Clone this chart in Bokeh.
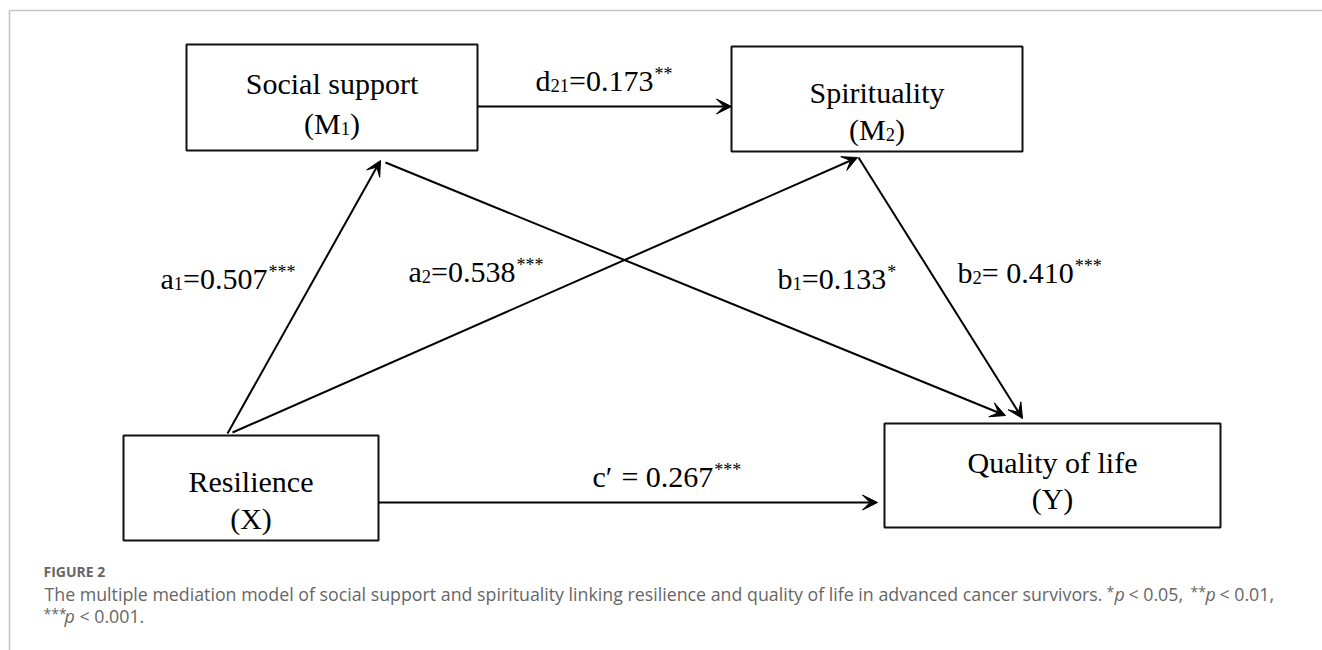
from bokeh.plotting import figure
from bokeh.models import ColumnDataSource, Range1d, Arrow, VeeHead
from bokeh.core.properties import value
from bokeh.embed import file_html
from bokeh.resources import INLINE

# ---------------- data ----------------
node_names = ["Social support", "Spirituality", "Resilience", "Quality of life"]
node_symbol = ["M", "M", "X", "Y"]
node_index = ["1", "2", "", ""]

path_letter = ["a", "a", "d", "b", "b", "c\u2032"]
path_sub = ["1", "2", "21", "1", "2", ""]
path_sep = ["=", "=", "=", "=", "= ", " = "]
path_coef = [0.507, 0.538, 0.173, 0.133, 0.410, 0.267]
path_stars = ["***", "***", "**", "*", "***", "***"]

fig_label = "FIGURE 2"
caption_main = ("The multiple mediation model of social support and spirituality linking "
                "resilience and quality of life in advanced cancer survivors.")
caption_p = "p"
caption_stars = ["*", "**", "***"]
caption_levels = ["< 0.05,", "< 0.01,", "< 0.001."]

# ---------------- layout (page pixel coordinates) ----------------
W, H = 1322, 650
box_left = [186, 731, 123, 884]
box_right = [477, 1022, 378, 1220]
box_top = [44, 46, 435, 423]
box_bottom = [150, 151, 540, 527]
name_base = [83, 92, 481, 462]
sym_base = [123, 129, 518, 498]

# arrows: a1, a2, d21, b1, b2, c'
arr_x0 = [227, 232, 477, 385, 858, 378]
arr_y0 = [433, 432, 106, 162, 157, 502]
arr_x1 = [380, 857, 731, 1005, 1022, 877]
arr_y1 = [160, 157, 106, 415, 418, 502]
lab_x = [160, 408, 535, 777, 957, 592]
lab_y = [278, 271, 80, 278, 272, 476]

FS = 30
SUB = 0.62
SUP = 0.6
TNR = {' ': 0.25, '(': 0.333, ')': 0.333, '*': 0.5, '.': 0.25, ',': 0.25,
       '=': 0.564, 'a': 0.444, 'b': 0.5, 'c': 0.444, 'd': 0.5, '\u2032': 0.27,
       'M': 0.889, 'X': 0.722, 'Y': 0.722}
for d in "0123456789":
    TNR[d] = 0.5


def tw(s, fs):
    return sum(TNR.get(ch, 0.5) for ch in s) * fs


serif = dict(x=[], y=[], text=[], size=[], align=[])


def put(x, y, t, fs, align="left"):
    serif["x"].append(x)
    serif["y"].append(y)
    serif["text"].append(t)
    serif["size"].append(f"{fs:.1f}px")
    serif["align"].append(align)


def put_pieces(x, y, pieces):
    for t, kind in pieces:
        if not t:
            continue
        fs = FS if kind == "n" else FS * (SUB if kind == "s" else SUP)
        lead = len(t) - len(t.lstrip(" "))
        x += tw(" " * lead, fs)
        t = t.lstrip(" ")
        if kind == "n":
            put(x, y, t, fs)
            x += tw(t, fs)
        elif kind == "s":
            put(x, y + 5, t, fs)
            x += tw(t, fs)
        else:
            put(x + 1, y - 7, t, fs)
            x += tw(t, fs) + 1


# node labels
for i in range(4):
    cx = (box_left[i] + box_right[i]) / 2
    put(cx, name_base[i], node_names[i], FS, "center")
    pieces = [("(" + node_symbol[i], "n"), (node_index[i], "s"), (")", "n")]
    total = tw("(" + node_symbol[i], FS) + tw(node_index[i], FS * SUB) + tw(")", FS)
    put_pieces(cx - total / 2, sym_base[i], pieces)

# path labels
for i in range(6):
    pieces = [(path_letter[i], "n"), (path_sub[i], "s"),
              (path_sep[i] + f"{path_coef[i]:.3f}", "n"), (path_stars[i], "u")]
    put_pieces(lab_x[i], lab_y[i], pieces)

# ---------------- figure ----------------
p = figure(width=W, height=H, x_range=Range1d(0, W), y_range=Range1d(H, 0),
           output_backend="svg", toolbar_location=None, min_border=0)
p.axis.visible = False
p.grid.visible = False
p.outline_line_color = None
p.background_fill_color = "white"
p.border_fill_color = "white"

# frame
p.segment(x0=[9, 9], y0=[10, 10], x1=[W, 9], y1=[10, H],
          line_color="#c6c6c6", line_width=1.6)

# boxes
p.quad(left=box_left, right=box_right, top=box_top, bottom=box_bottom,
       fill_color="white", line_color="#111111", line_width=2)

# arrows
asrc = ColumnDataSource(dict(x0=arr_x0, y0=arr_y0, x1=arr_x1, y1=arr_y1))
p.add_layout(Arrow(x_start="x0", y_start="y0", x_end="x1", y_end="y1", source=asrc,
                   line_color="black", line_width=2,
                   end=VeeHead(size=15, fill_color="black", line_color="black", line_width=1)))

# serif texts
p.text(x="x", y="y", text="text", source=ColumnDataSource(serif),
       text_font=value("Liberation Serif"), text_font_size="size",
       text_align="align", text_baseline="alphabetic", text_color="black")

# caption
CF = "17.8px"
SF = "14px"
L0, L1, L2 = 571, 593, 615
cap = dict(
    x=[43, 1102, 1106, 1114, 1128, 1190, 1205, 1219, 43, 64, 79],
    y=[L0, L1, L1 - 2, L1, L1, L1 - 2, L1, L1, L2 - 2, L2, L2],
    text=[fig_label, caption_main, caption_stars[0], caption_p, caption_levels[0],
          caption_stars[1], caption_p, caption_levels[1],
          caption_stars[2], caption_p, caption_levels[2]],
    style=["bold", "normal", "normal", "italic", "normal", "normal", "italic", "normal",
           "normal", "italic", "normal"],
    size=["14px", CF, SF, CF, CF, SF, CF, CF, SF, CF, CF],
    align=["left", "right", "left", "left", "left", "left", "left", "left",
           "left", "left", "left"],
)
p.text(x="x", y="y", text="text", source=ColumnDataSource(cap),
       text_font=value("Open Sans"), text_font_style="style", text_font_size="size",
       text_align="align", text_baseline="alphabetic", text_color="#666666")

open("out.html", "w").write(file_html(p, INLINE))
